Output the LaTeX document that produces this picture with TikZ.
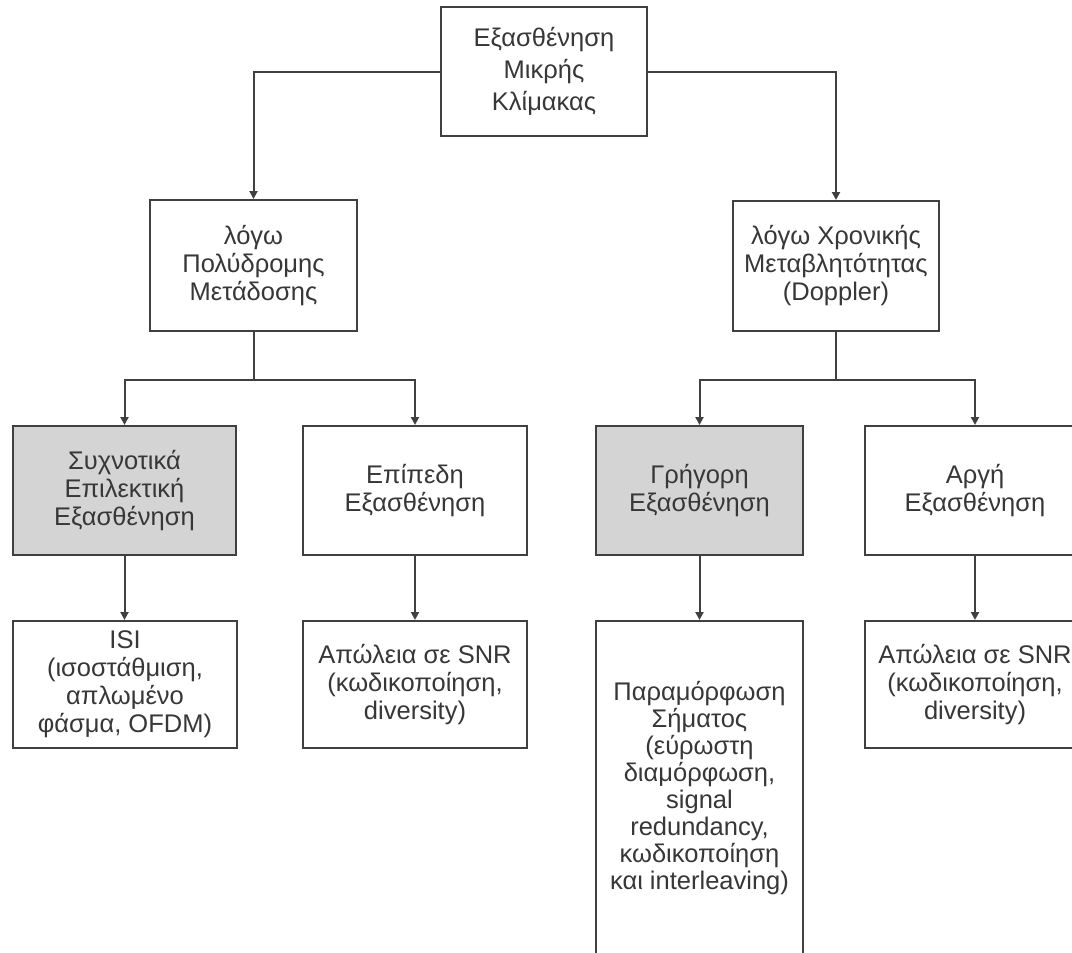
\documentclass[tikz,border=0pt]{standalone}
\usepackage{fontspec}
\setmainfont{Liberation Sans}
\usetikzlibrary{arrows.meta}
\definecolor{linec}{RGB}{64,64,64}
\definecolor{shadec}{RGB}{212,212,212}
\definecolor{textc}{RGB}{55,55,55}
\newcommand\bodytxt{\fontsize{25.5}{28}\selectfont}
\newcommand\toptxt{\fontsize{25.5}{32}\selectfont}
\newcommand\disttxt{\fontsize{25.5}{27}\selectfont}
\tikzset{
  box/.style={draw=linec, line width=2pt, fill=white, inner sep=0pt, align=center,
    text=textc, font=\bodytxt},
  shaded/.style={box, fill=shadec},
  conn/.style={draw=linec, line width=2pt, -{Triangle[width=8pt,length=8pt]}},
  plain/.style={draw=linec, line width=2pt}
}
\begin{document}
\begin{tikzpicture}[x=1pt,y=-1pt]
\useasboundingbox (0,0) rectangle (1072,953);
\fill[white] (0,0) rectangle (1072,953);

\node[box, font=\toptxt, minimum width=206pt, minimum height=129pt] (top) at (544,71.5)
  {Εξασθένηση\\Μικρής\\Κλίμακας};
\node[box, minimum width=207pt, minimum height=131pt] (lmid) at (253.5,265.5)
  {λόγω\\Πολύδρομης\\Μετάδοσης};
\node[box, minimum width=206pt, minimum height=130pt] (rmid) at (836,266)
  {λόγω Χρονικής\\Μεταβλητότητας\\(Doppler)};

\node[shaded, minimum width=223pt, minimum height=129pt] (freq) at (124.5,490.5)
  {Συχνοτικά\\Επιλεκτική\\Εξασθένηση};
\node[box, minimum width=224pt, minimum height=129pt] (flat) at (415,490.5)
  {Επίπεδη\\Εξασθένηση};
\node[shaded, minimum width=207pt, minimum height=129pt] (fast) at (699.5,490.5)
  {Γρήγορη\\Εξασθένηση};
\node[box, minimum width=220pt, minimum height=129pt] (slow) at (975,490.5)
  {Αργή\\Εξασθένηση};

\node[box, minimum width=224pt, minimum height=127pt] (isi) at (125,684.5)
  {ISI\\(ισοστάθμιση,\\απλωμένο\\φάσμα, OFDM)};
\node[box, minimum width=224pt, minimum height=127pt] (loss1) at (415,684.5)
  {Απώλεια σε SNR\\(κωδικοποίηση,\\diversity)};
\node[box, font=\disttxt, minimum width=207pt, minimum height=334pt] (dist) at (699.5,788)
  {Παραμόρφωση\\Σήματος\\(εύρωστη\\διαμόρφωση,\\signal\\redundancy,\\κωδικοποίηση\\και interleaving)};
\node[box, minimum width=220pt, minimum height=127pt] (loss2) at (975,684.5)
  {Απώλεια σε SNR\\(κωδικοποίηση,\\diversity)};

% connectors
\draw[conn] (top.west) -| (lmid.north);
\draw[conn] (top.east) -| (rmid.north);

\draw[plain] (lmid.south) -- ++(0,48) coordinate (lj);
\draw[conn] (lj) -| (freq.north);
\draw[conn] (lj) -| (flat.north);

\draw[plain] (rmid.south) -- ++(0,48) coordinate (rj);
\draw[conn] (rj) -| (fast.north);
\draw[conn] (rj) -| (slow.north);

\draw[conn] (freq.south) -- (freq.south |- isi.north);
\draw[conn] (flat.south) -- (flat.south |- loss1.north);
\draw[conn] (fast.south) -- (fast.south |- dist.north);
\draw[conn] (slow.south) -- (slow.south |- loss2.north);
\end{tikzpicture}
\end{document}
